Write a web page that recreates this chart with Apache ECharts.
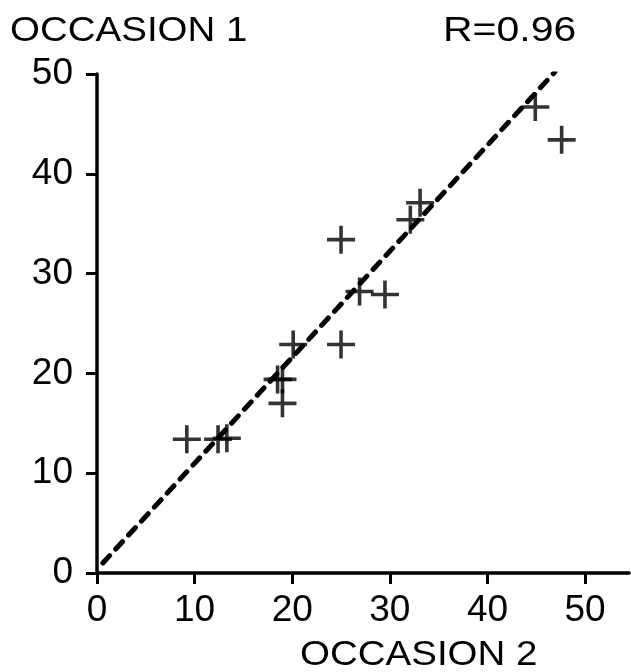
<!DOCTYPE html>
<html>
<head>
<meta charset="utf-8">
<script src="https://cdn.jsdelivr.net/npm/echarts@6/dist/echarts.min.js"></script>
<style>
  html, body { margin: 0; padding: 0; background: #fff; }
  #chart { width: 631px; height: 672px; }
</style>
</head>
<body>
<div id="chart"></div>
<script>
	"use strict";

	/*----- data -----*/
	var occasion2 = [9.2, 12.4, 13.3, 18.5, 19.0, 19.0, 20.1, 25.0, 25.0, 26.9, 29.5, 32.1, 33.1, 44.9, 47.6];
	var occasion1 = [13.4, 13.4, 13.5, 19.4, 19.4, 17.0, 22.9, 22.9, 33.4, 28.2, 27.9, 35.4, 37.1, 46.7, 43.4];
	var fitX = [0.6, 46.9];
	var fitY = [1.0, 50.2];
	var xTicks = [0, 10, 20, 30, 40, 50];
	var yTicks = [0, 10, 20, 30, 40, 50];

	var points = occasion2.map(function (x, i) { return [x, occasion1[i]]; });
	var fitLine = fitX.map(function (x, i) { return [x, fitY[i]]; });

	var ink = '#000';
	var fontFam = '"Liberation Sans", Arial, sans-serif';
	// plus sign, filled so the arms stay crisp
	var plus = 'path://M12.2,0 H15.8 V12.2 H28 V15.8 H15.8 V28 H12.2 V15.8 H0 V12.2 H12.2 Z';

	var option = {
		animation: false,
		backgroundColor: '#fff',
		grid: {
			left: 97,
			right: 2,
			top: 74,
			bottom: 99
		},
		xAxis: {
			type: 'value',
			min: 0,
			max: 54.5,
			interval: 10,
			splitLine: { show: false },
			axisLine: { onZero: false, lineStyle: { color: ink, width: 3.5 } },
			axisTick: { length: 11, lineStyle: { color: ink, width: 3 } },
			axisLabel: {
				margin: 19,
				fontSize: 37,
				fontFamily: fontFam,
				color: ink,
				showMaxLabel: false,
				formatter: function (v) { return xTicks.indexOf(v) >= 0 ? String(v) : ''; }
			}
		},
		yAxis: {
			type: 'value',
			min: 0,
			max: 50,
			interval: 10,
			splitLine: { show: false },
			axisLine: { onZero: false, lineStyle: { color: ink, width: 3.5 } },
			axisTick: { length: 11, lineStyle: { color: ink, width: 3 } },
			axisLabel: {
				margin: 24,
				fontSize: 37,
				fontFamily: fontFam,
				color: ink,
				formatter: function (v) { return yTicks.indexOf(v) >= 0 ? String(v) : ''; }
			}
		},
		graphic: [
			{
				type: 'text', left: 10, top: 14, scaleX: 1.1,
				style: { text: 'OCCASION 1', fontSize: 35, fontFamily: fontFam, fill: ink }
			},
			{
				type: 'text', left: 443, top: 14, scaleX: 1.17,
				style: { text: 'R=0.96', fontSize: 35, fontFamily: fontFam, fill: ink }
			},
			{
				type: 'text', left: 300, top: 638, scaleX: 1.1,
				style: { text: 'OCCASION 2', fontSize: 35, fontFamily: fontFam, fill: ink }
			}
		],
		series: [
			{
				name: 'fit',
				type: 'line',
				data: fitLine,
				symbol: 'none',
				silent: true,
				lineStyle: { color: ink, width: 5, type: [10, 9], cap: 'round' },
				z: 2
			},
			{
				name: 'subjects',
				type: 'scatter',
				data: points,
				symbol: plus,
				symbolSize: 28,
				itemStyle: { color: ink },
				z: 3
			}
		]
	};

	var chart = echarts.init(document.getElementById('chart'));
	chart.setOption(option);
</script>
</body>
</html>
